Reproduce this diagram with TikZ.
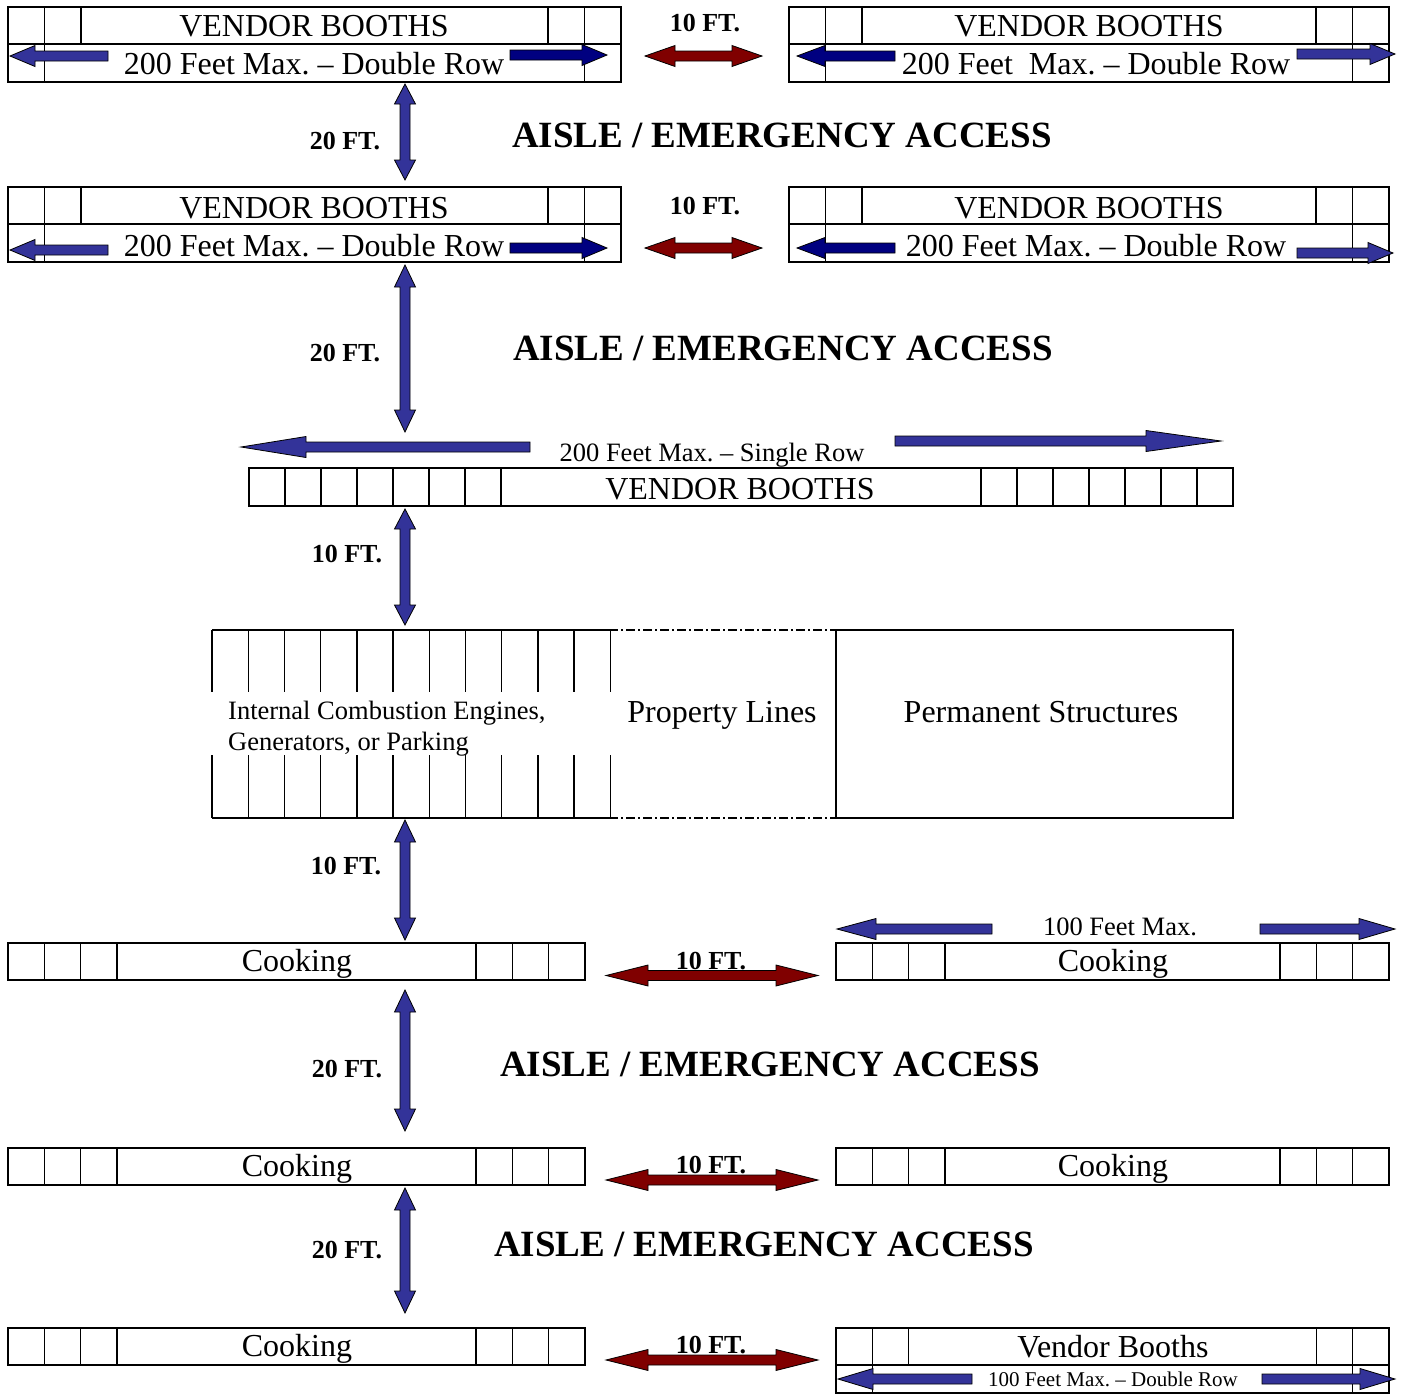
\documentclass[tikz,border=0pt]{standalone}
\usepackage{fontspec}
\setmainfont{Liberation Serif}
\frenchspacing

\definecolor{arrowblue}{RGB}{51,51,153}
\definecolor{arrownavy}{RGB}{0,0,128}
\definecolor{arrowred}{RGB}{128,0,0}

\newcommand*{\headhalf}{10.5}
\newcommand*{\shafthalf}{5}

% single block arrow: tail x, tip x, y, head length (negative points left)
\newcommand*{\harrow}[5][]{%
	\filldraw[blockarrow,#1] (#2,#4-\shafthalf) -- ({#3-(#5)},#4-\shafthalf) -- ({#3-(#5)},#4-\headhalf)
	  -- (#3,#4) -- ({#3-(#5)},#4+\headhalf) -- ({#3-(#5)},#4+\shafthalf) -- (#2,#4+\shafthalf) -- cycle;}
% double block arrow: left tip, right tip, y, head length
\newcommand*{\hdarrow}[5][]{%
	\filldraw[blockarrow,#1] (#2,#4) -- (#2+#5,#4-\headhalf) -- (#2+#5,#4-\shafthalf) -- (#3-#5,#4-\shafthalf)
	  -- (#3-#5,#4-\headhalf) -- (#3,#4) -- (#3-#5,#4+\headhalf) -- (#3-#5,#4+\shafthalf)
	  -- (#2+#5,#4+\shafthalf) -- (#2+#5,#4+\headhalf) -- cycle;}
% vertical double block arrow: x, top tip, bottom tip, head length
\newcommand*{\vdarrow}[5][]{%
	\filldraw[blockarrow,#1] (#2,#3) -- (#2+\headhalf,#3+#5) -- (#2+\shafthalf,#3+#5) -- (#2+\shafthalf,#4-#5)
	  -- (#2+\headhalf,#4-#5) -- (#2,#4) -- (#2-\headhalf,#4-#5) -- (#2-\shafthalf,#4-#5)
	  -- (#2-\shafthalf,#3+#5) -- (#2-\headhalf,#3+#5) -- cycle;}

\begin{document}
\begin{tikzpicture}
[
	x=1pt, y=-1pt,
	booth/.style={line width=2pt},
	cell/.style={line width=1.4pt},
	propline/.style={line width=1.8pt, dash pattern=on 9pt off 3pt on 2pt off 3pt},
	blockarrow/.style={draw=black, line width=0.8pt, fill=arrowblue},
	boothtext/.style={anchor=base, inner sep=0pt, font=\fontsize{32}{32}\selectfont},
	smalltext/.style={anchor=base, inner sep=0pt, font=\fontsize{26.5}{26.5}\selectfont},
	tinytext/.style={anchor=base, inner sep=0pt, font=\fontsize{21}{21}\selectfont},
	dimtext/.style={anchor=base, inner sep=0pt, font=\bfseries\fontsize{26}{26}\selectfont},
	aisletext/.style={anchor=base, inner sep=0pt, font=\bfseries\fontsize{37}{37}\selectfont}
]

	\useasboundingbox (0,0) rectangle (1406,1395);

	% double rows of vendor booths
	\foreach \ya in {7,187} {
		\foreach \xa/\xb in {8/621,789/1389} {
			\draw[booth] (\xa,\ya) rectangle (\xb,\ya+75);
			\draw[booth] (\xa,\ya+37) -- (\xb,\ya+37);
			\foreach \d in {36.5,73} {
				\draw[cell] (\xa+\d,\ya) -- (\xa+\d,\ya+37);
				\draw[cell] (\xb-\d,\ya) -- (\xb-\d,\ya+37);
			}
			\draw[cell] (\xa+36.5,\ya+37) -- (\xa+36.5,\ya+75);
			\draw[cell] (\xb-36.5,\ya+37) -- (\xb-36.5,\ya+75);
		}
	}

	\harrow{108}{10}{56}{-25}
	\harrow[fill=arrownavy]{510}{607}{55}{25}
	\hdarrow[fill=arrowred]{645}{762}{56}{30}
	\harrow[fill=arrownavy]{895}{797}{56}{-28}
	\harrow{1297}{1395}{54}{25}

	\harrow{108}{10}{250}{-25}
	\harrow[fill=arrownavy]{510}{607}{248}{25}
	\hdarrow[fill=arrowred]{645}{762}{248}{30}
	\harrow[fill=arrownavy]{895}{797}{248}{-28}
	\harrow{1297}{1393}{253}{25}

	\node[boothtext] (boothA) at (314,36) {VENDOR BOOTHS};
	\node[boothtext] (rowA) at (314,74) {200 Feet Max. – Double Row};
	\node[boothtext] (boothB) at (1089,36) {VENDOR BOOTHS};
	\node[boothtext] (rowB) at (1096,74) {200 Feet~ Max. – Double Row};
	\node[dimtext] (gapA) at (705,31) {10 FT.};

	\node[boothtext] (boothC) at (314,218) {VENDOR BOOTHS};
	\node[boothtext] (rowC) at (314,256) {200 Feet Max. – Double Row};
	\node[boothtext] (boothD) at (1089,218) {VENDOR BOOTHS};
	\node[boothtext] (rowD) at (1096,256) {200 Feet Max. – Double Row};
	\node[dimtext] (gapB) at (705,214) {10 FT.};

	% aisles
	\vdarrow{405}{84}{180}{20}
	\node[dimtext] (aisleA) at (345,149) {20 FT.};
	\node[aisletext] (accessA) at (782,147.5) {AISLE / EMERGENCY ACCESS};

	\vdarrow{405}{265}{432}{22}
	\node[dimtext] (aisleB) at (345,361) {20 FT.};
	\node[aisletext] (accessB) at (783,360.5) {AISLE / EMERGENCY ACCESS};

	% single row
	\harrow{530}{241}{447}{-65}
	\harrow{895}{1221}{441}{75}
	\node[smalltext] (singlerow) at (712,461) {200 Feet Max. – Single Row};
	\draw[booth] (249,468) rectangle (1233,506);
	\foreach \x in {285,321,...,501} {
		\draw[cell] (\x,468) -- (\x,506);
	}
	\foreach \x in {981,1017,...,1197} {
		\draw[cell] (\x,468) -- (\x,506);
	}
	\node[boothtext] (boothE) at (740,499) {VENDOR BOOTHS};

	\vdarrow{405}{509}{625}{20}
	\node[dimtext] (gapC) at (347,562) {10 FT.};

	% engines, property lines, structures
	\draw[booth] (212,630) -- (609,630);
	\draw[booth] (212,818) -- (609,818);
	\foreach \x in {212,248.2,...,611} {
		\draw[cell] (\x,630) -- (\x,692);
		\draw[cell] (\x,755) -- (\x,818);
	}
	\draw[propline] (609,630) -- (836,630);
	\draw[propline] (609,818) -- (836,818);
	\draw[booth] (836,630) rectangle (1233,818);
	\node[smalltext, anchor=base west] (engines) at (228,719) {Internal Combustion Engines,};
	\node[smalltext, anchor=base west] (parking) at (228,750) {Generators, or Parking};
	\node[boothtext] (property) at (722,722) {Property Lines};
	\node[boothtext] (structures) at (1041,722) {Permanent Structures};

	\vdarrow{405}{820}{940}{22}
	\node[dimtext] (gapD) at (346,874) {10 FT.};

	% cooking rows
	\foreach \ya in {943,1148,1328} {
		\draw[booth] (8,\ya) rectangle (585,\ya+37);
		\foreach \d in {36.3,72.6,108.9} {
			\draw[cell] (8+\d,\ya) -- (8+\d,\ya+37);
			\draw[cell] (585-\d,\ya) -- (585-\d,\ya+37);
		}
	}
	\foreach \ya in {943,1148} {
		\draw[booth] (836,\ya) rectangle (1389,\ya+37);
		\foreach \d in {36.3,72.6,108.9} {
			\draw[cell] (836+\d,\ya) -- (836+\d,\ya+37);
			\draw[cell] (1389-\d,\ya) -- (1389-\d,\ya+37);
		}
	}

	\harrow{992}{837}{929}{-39}
	\harrow{1260}{1395}{929}{36}
	\node[smalltext] (hundred) at (1120,935) {100 Feet Max.};

	\hdarrow[fill=arrowred]{606}{818}{975.5}{42}
	\hdarrow[fill=arrowred]{606}{818}{1180}{42}
	\hdarrow[fill=arrowred]{606}{818}{1360}{42}

	\node[boothtext] (cookA) at (297,971) {Cooking};
	\node[boothtext] (cookB) at (1113,971) {Cooking};
	\node[dimtext] (gapE) at (711,969) {10 FT.};

	\vdarrow{405}{990}{1131}{22}
	\node[dimtext] (aisleC) at (347,1077) {20 FT.};
	\node[aisletext] (accessC) at (770,1076.5) {AISLE / EMERGENCY ACCESS};

	\node[boothtext] (cookC) at (297,1176) {Cooking};
	\node[boothtext] (cookD) at (1113,1176) {Cooking};
	\node[dimtext] (gapF) at (711,1173) {10 FT.};

	\vdarrow{405}{1188}{1313}{22}
	\node[dimtext] (aisleD) at (347,1258) {20 FT.};
	\node[aisletext] (accessD) at (764,1256.5) {AISLE / EMERGENCY ACCESS};

	\node[boothtext] (cookE) at (297,1356) {Cooking};
	\node[dimtext] (gapG) at (711,1353) {10 FT.};

	% last vendor booths
	\draw[booth] (836,1328) rectangle (1389,1393);
	\draw[booth] (836,1365) -- (1389,1365);
	\foreach \d in {36.3,72.6} {
		\draw[cell] (836+\d,1328) -- (836+\d,1365);
		\draw[cell] (1389-\d,1328) -- (1389-\d,1365);
	}
	\draw[cell] (872.3,1365) -- (872.3,1393);
	\draw[cell] (1352.7,1365) -- (1352.7,1393);
	\harrow{972}{838}{1379}{-35}
	\harrow{1262}{1395}{1379}{35}
	\node[boothtext] (vendor) at (1113,1357) {Vendor Booths};
	\node[tinytext] (doublerow) at (1113,1386) {100 Feet Max. – Double Row};

\end{tikzpicture}
\end{document}
